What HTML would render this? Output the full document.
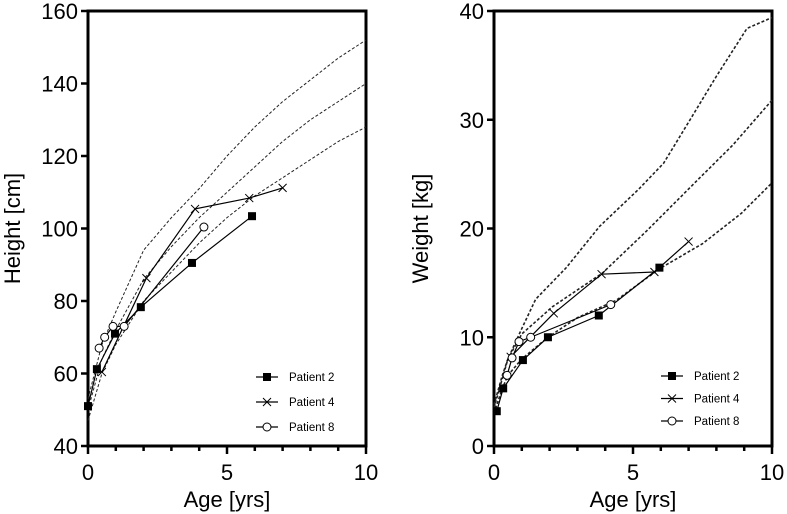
<!DOCTYPE html>
<html><head><meta charset="utf-8"><style>
body{margin:0;background:#fff}
svg{display:block;font-family:"Liberation Sans",Arial,sans-serif}
</style></head><body>
<svg id="c" width="787" height="514" viewBox="0 0 787 514"></svg>
<script>
const ages=[0,0.5,1,2,3,4,5,6,7,8,9,10];
const hP97=[53,68,77,94,103,111,120,128,135,141,147,152];
const hP50=[50,64,72,86,95,103,110,117,124,130,135,140];
const hP3=[47,60,68,80,88,96,103,109,114,119,124,128];
const wAgesTop=[0,0.3,0.5,1,1.5,2.6,3.8,5.2,6.1,7.1,8,9.1,10];
const wP97=[3.8,6.5,8,10.8,13.5,16.4,20.2,23.6,26,30.2,34,38.4,39.4];
const wAgesMid=[0,0.3,0.5,1,2.1,3.9,5.5,7.3,8.6,10];
const wP50=[3.5,6.2,8,10.3,12.8,15.9,19.8,24.4,27.7,31.8];
const wAgesLow=[0,0.3,0.5,1,1.94,3,4.4,5.95,7.5,8.9,10];
const wP3=[3,5.3,6.5,8,10,11.8,13.4,16.3,18.6,21.4,24.2];
const h2x=[0,0.32,0.97,1.9,3.74,5.9], h2y=[51,61.2,71,78.3,90.5,103.4];
const h4x=[0.5,2.1,3.85,5.8,7.0], h4y=[60.4,86.3,105.4,108.4,111.2];
const h8x=[0.4,0.6,0.9,1.3,4.17], h8y=[67,70,73,73,100.4];
const w2x=[0.1,0.33,1.04,1.94,3.77,5.95], w2y=[3.2,5.3,7.9,10,12,16.4];
const w4x=[0.6,2.15,3.87,5.77,7.0], w4y=[8.2,12.2,15.8,16,18.8];
const w8x=[0.47,0.65,0.9,1.32,4.2], w8y=[6.5,8.1,9.6,10,13];
const hTicks=[40,60,80,100,120,140,160];
const wTicks=[0,10,20,30,40];
const xTicks=[0,5,10];
const legendNames=["Patient 2","Patient 4","Patient 8"];

const svg=document.getElementById('c');
const NS='http://www.w3.org/2000/svg';
function mk(t,a,p){const e=document.createElementNS(NS,t);for(const k in a)e.setAttribute(k,a[k]);(p||svg).appendChild(e);return e;}

function panel(cfg){
  const g=mk('g',{});
  
  
  const X=v=>cfg.x0+(v/10)*(cfg.x1-cfg.x0);
  const Y=v=>cfg.y0-(v-cfg.ymin)/(cfg.ymax-cfg.ymin)*(cfg.y0-cfg.y1);
  const frame=mk('rect',{x:cfg.x0,y:cfg.y1,width:cfg.x1-cfg.x0,height:cfg.y0-cfg.y1,fill:'none',stroke:'#000','stroke-width':3},g);
  
  
  for(let i=0;i<=10;i++){
    const t=mk('line',{x1:X(i),x2:X(i),y1:cfg.y0,y2:cfg.y0+(i%5==0?8:5),stroke:'#000','stroke-width':2.5},g);
    
    
  }
  xTicks.forEach(v=>{
    const t=mk('text',{x:X(v),y:cfg.y0+34,'text-anchor':'middle','font-size':22},g);t.textContent=v;
    
    
  });
  cfg.yt.forEach(v=>{
    const l=mk('line',{x1:cfg.x0-7,x2:cfg.x0,y1:Y(v),y2:Y(v),stroke:'#000','stroke-width':2.5},g);
    
    
    const t=mk('text',{x:cfg.x0-10,y:Y(v)+8,'text-anchor':'end','font-size':22},g);t.textContent=v;
    
    
  });
  const xt=mk('text',{x:(cfg.x0+cfg.x1)/2,y:cfg.y0+61,'text-anchor':'middle','font-size':22},g);xt.textContent='Age [yrs]';
  
  
  const yt=mk('text',{x:0,y:0,'text-anchor':'middle','font-size':22,transform:`translate(${cfg.ytx},${(cfg.y0+cfg.y1)/2}) rotate(-90)`},g);yt.textContent=cfg.ytitle;
  
  
  cfg.refs.forEach((r,i)=>{
    const p=mk('polyline',{points:r[0].map((a,j)=>X(a)+','+Y(r[1][j])).join(' '),fill:'none',stroke:'#222','stroke-width':cfg.dw,'stroke-dasharray':'3,2'},g);
    
    
  });
  const marks=['square','cross','circle'];
  function marker(type,x,y,par){
    let e;
    if(type=='square')e=mk('rect',{x:x-4,y:y-4,width:8,height:8,fill:'#000'},par);
    else if(type=='circle')e=mk('circle',{cx:x,cy:y,r:4,fill:'#fff',stroke:'#000','stroke-width':1},par);
    else e=mk('path',{d:`M${x-4},${y-4}L${x+4},${y+4}M${x-4},${y+4}L${x+4},${y-4}`,stroke:'#000','stroke-width':1},par);
    return e;
  }
  cfg.series.forEach((s,i)=>{
    const sg=mk('g',{},g);
    
    
    const pl=mk('polyline',{points:s[0].map((a,j)=>X(a)+','+Y(s[1][j])).join(' '),fill:'none',stroke:'#000','stroke-width':1.2},sg);
    
    
    s[0].forEach((a,j)=>{
      const m=marker(marks[i],X(a),Y(s[1][j]),sg);
      
      
    });
  });
  const lg=mk('g',{},g);
  
  
  legendNames.forEach((n,i)=>{
    const y=cfg.ly+i*cfg.lsp;
    const e=mk('g',{},lg);
    
    
    mk('line',{x1:cfg.lx,x2:cfg.lx+22,y1:y,y2:y,stroke:'#000','stroke-width':1.2},e);
    marker(marks[i],cfg.lx+11,y,e);
    const t=mk('text',{x:cfg.lx+33,y:y+4,'font-size':11.5},e);t.textContent=n;
  });
}
panel({name:'height-chart',x0:88,x1:366,y0:446,y1:11,ymin:40,ymax:160,yt:hTicks,ytx:20,ytitle:'Height [cm]',dw:1,
  refs:[[ages,hP97],[ages,hP50],[ages,hP3]],series:[[h2x,h2y],[h4x,h4y],[h8x,h8y]],lx:256,ly:377,lsp:25});
panel({name:'weight-chart',x0:494,x1:772,y0:446,y1:11,ymin:0,ymax:40,yt:wTicks,ytx:428,ytitle:'Weight [kg]',dw:1.6,
  refs:[[wAgesTop,wP97],[wAgesMid,wP50],[wAgesLow,wP3]],series:[[w2x,w2y],[w4x,w4y],[w8x,w8y]],lx:661,ly:376,lsp:22.5});
</script>
</body></html>
